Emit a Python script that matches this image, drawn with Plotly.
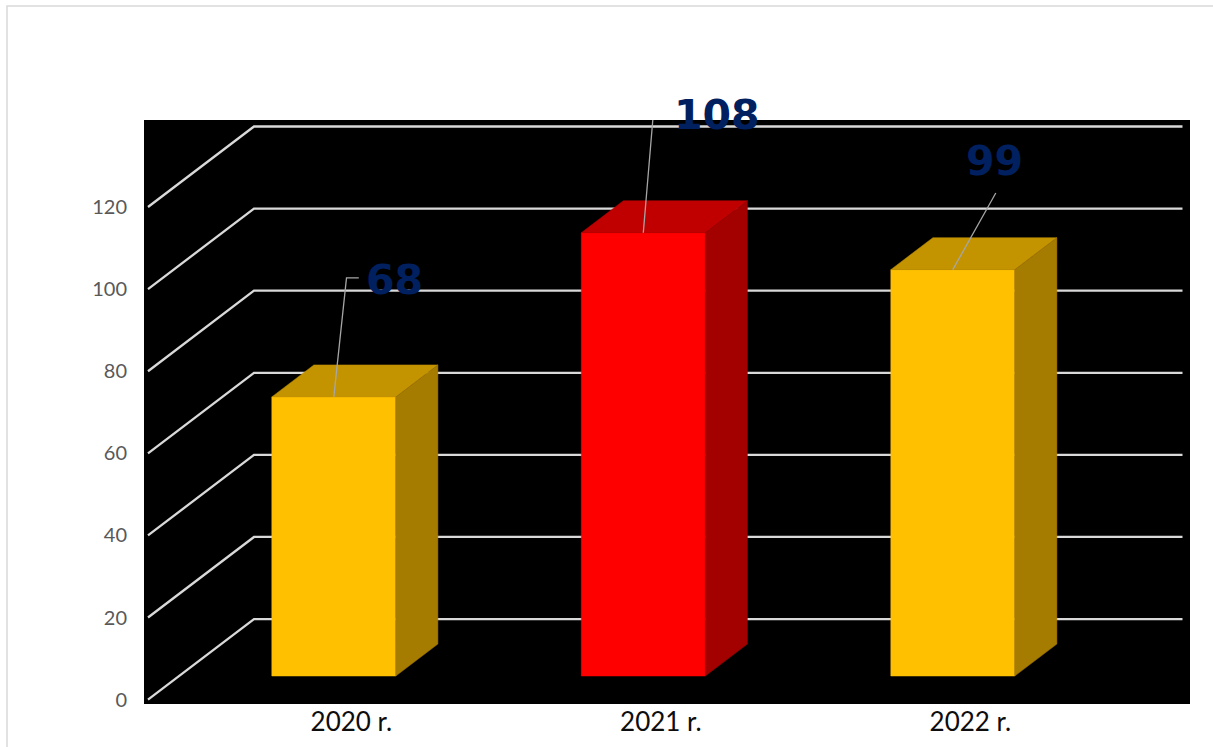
import plotly.graph_objects as go

# ---------------- data ----------------
categories = ["2020 r.", "2021 r.", "2022 r."]
values = [68, 108, 99]
bar_is_highlight = [False, True, False]
y_ticks = [0, 20, 40, 60, 80, 100, 120]

# ---------------- styling / geometry ----------------
W, H = 1213, 747
PLOT_L, PLOT_R, PLOT_T, PLOT_B = 144, 1190, 120, 703.7
PX_PER_CAT = 309.5
PX_PER_VAL = 4.1025
X_MIN = -0.5129
X_MAX = X_MIN + (PLOT_R - PLOT_L) / PX_PER_CAT
Y_MIN = -(PLOT_B - 699.3) / PX_PER_VAL
Y_MAX = (699.3 - PLOT_T) / PX_PER_VAL

DX = 106 / PX_PER_CAT        # oblique depth shift (x, data units) for full depth
DV = 80.5 / PX_PER_VAL       # oblique depth shift (y, data units) for full depth
Z0, Z1 = 0.293, 0.69         # bar front / back depth
HALF_W = 0.2003              # bar half width (category units)
WALL_L, WALL_R = -0.5, 2.5
LABEL_SHIFT = 0.157

GRID_COLOR = "#D9D9D9"
COLORS = {False: ("#FFC000", "#C49300", "#A57B00"),
          True: ("#FF0000", "#C00000", "#A30000")}
LABEL_COLOR = "#002060"
LEADER_COLOR = "#A6A6A6"

# leader paths / label centres as pixel offsets from the bar's front-top centre
LEADER_PX = [[(0, 0), (12.7, -119), (25, -119)],
             [(0, 0), (10, -118.6), (22, -118.6)],
             [(0, 0), (43, -76.6)]]
LABEL_PX = [(61, -116.7), (73.5, -117.6), (42, -108.6)]


def proj(c, v, z):
    return c + z * DX, v + z * DV


fig = go.Figure()

# gridlines on side wall + back wall
for t in y_ticks:
    pts = [proj(WALL_L, t, 0), proj(WALL_L, t, 1), proj(WALL_R, t, 1)]
    fig.add_trace(go.Scatter(x=[p[0] for p in pts], y=[p[1] for p in pts],
                             mode="lines", line=dict(color=GRID_COLOR, width=2.3),
                             hoverinfo="skip", showlegend=False))

# 3D bars
for i, (v, hl) in enumerate(zip(values, bar_is_highlight)):
    front_c, top_c, side_c = COLORS[hl]
    l, r = i - HALF_W, i + HALF_W
    faces = [
        ([(l, 0, Z0), (r, 0, Z0), (r, v, Z0), (l, v, Z0)], front_c),
        ([(l, v, Z0), (r, v, Z0), (r, v, Z1), (l, v, Z1)], top_c),
        ([(r, 0, Z0), (r, 0, Z1), (r, v, Z1), (r, v, Z0)], side_c),
    ]
    for pts, col in faces:
        pp = [proj(*p) for p in pts]
        pp.append(pp[0])
        fig.add_trace(go.Scatter(x=[p[0] for p in pp], y=[p[1] for p in pp],
                                 mode="lines", fill="toself", fillcolor=col,
                                 line=dict(color=col, width=0.5),
                                 hoverinfo="skip", showlegend=False))

# leader lines and data labels
for i, v in enumerate(values):
    ax, ay = proj(i, v, Z0)
    xs = [ax + dx / PX_PER_CAT for dx, dy in LEADER_PX[i]]
    ys = [ay - dy / PX_PER_VAL for dx, dy in LEADER_PX[i]]
    fig.add_trace(go.Scatter(x=xs, y=ys, mode="lines",
                             line=dict(color=LEADER_COLOR, width=1.3),
                             hoverinfo="skip", showlegend=False))
    fig.add_annotation(x=ax, y=ay, xref="x", yref="y", text=str(v),
                       showarrow=False, xshift=LABEL_PX[i][0], yshift=-LABEL_PX[i][1],
                       xanchor="center", yanchor="middle",
                       font=dict(family="DejaVu Sans", size=41, color=LABEL_COLOR,
                                 weight="bold"))

# chart-area border
fig.add_shape(type="rect", xref="paper", yref="paper",
              x0=(7 - PLOT_L) / (PLOT_R - PLOT_L), x1=(1225 - PLOT_L) / (PLOT_R - PLOT_L),
              y0=(PLOT_B - 760) / (PLOT_B - PLOT_T), y1=(PLOT_B - 6) / (PLOT_B - PLOT_T),
              line=dict(color="#D9D9D9", width=1.5), fillcolor="rgba(0,0,0,0)",
              layer="below")

fig.update_layout(
    width=W, height=H, autosize=False,
    margin=dict(l=PLOT_L, r=W - PLOT_R, t=PLOT_T, b=H - PLOT_B, pad=0),
    paper_bgcolor="white", plot_bgcolor="black",
    showlegend=False,
    xaxis=dict(range=[X_MIN, X_MAX], tickmode="array",
               tickvals=[i + LABEL_SHIFT for i in range(len(categories))],
               ticktext=categories, showgrid=False, zeroline=False, showline=False,
               ticks="", ticklabelstandoff=0, automargin=False,
               tickfont=dict(family="Lato", size=26, color="#0D0D0D"),
               fixedrange=True),
    yaxis=dict(range=[Y_MIN, Y_MAX], tickmode="array", tickvals=y_ticks,
               showgrid=False, zeroline=False, showline=False,
               ticks="", ticklabelstandoff=16, automargin=False,
               tickfont=dict(family="Lato", size=20, color="#595959"),
               fixedrange=True),
)

fig.write_html("out.html", config={"displayModeBar": False},
               post_script="document.body.style.margin='0';document.body.style.overflow='hidden';")
